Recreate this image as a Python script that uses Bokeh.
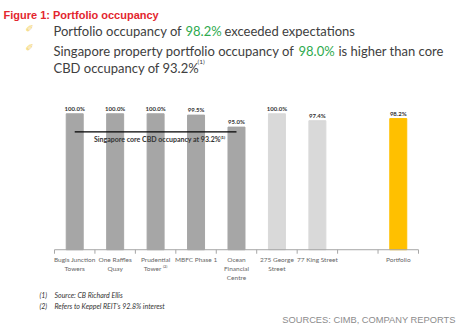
from bokeh.plotting import figure
from bokeh.models import Range1d, Label, ColumnDataSource
from bokeh.core.properties import value
from bokeh.embed import file_html
from bokeh.resources import INLINE

# ---- data ----
properties = ["Bugis Junction\nTowers", "One Raffles\nQuay", "Prudential\nTower \u207d\u00b2\u207e",
              "MBFC Phase 1", "Ocean\nFinancial\nCentre", "275 George\nStreet", "77 King Street",
              "Portfolio"]
occupancy = [100.0, 100.0, 100.0, 99.5, 95.0, 100.0, 97.4, 98.2]
occ_labels = ["100.0%", "100.0%", "100.0%", "99.5%", "95.0%", "100.0%", "97.4%", "98.2%"]
groups = ["sg", "sg", "sg", "sg", "sg", "au", "au", "all"]
core_cbd = 93.2
core_cbd_label = "Singapore core CBD occupancy at 93.2%\u207d\u00b9\u207e"

title = "Figure 1: Portfolio occupancy"
footnotes = [("(1)", "Source: CB Richard Ellis"), ("(2)", "Refers to Keppel REIT\u2019s 92.8% interest")]
source_note = "SOURCES: CIMB, COMPANY REPORTS"

# ---- layout ----
W, H = 459, 326
group_color = {"sg": "#A6A6A6", "au": "#D9D9D9", "all": "#FFC000"}
# slot index of each property (an empty slot separates Portfolio)
slots = [i if i < 7 else i + 1 for i in range(len(properties))]
n_slots = 9
xs = [s + 0.5 for s in slots]
base = 49.0

p = figure(width=W, height=H, output_backend="svg", toolbar_location=None,
           x_range=Range1d(-1.335, 10.014), y_range=Range1d(20.2, 142.5),
           min_border=0)
p.axis.visible = False
p.outline_line_color = None
p.grid.visible = False
p.background_fill_color = "white"
p.border_fill_color = "white"

src = ColumnDataSource(dict(x=xs, top=occupancy, lab=occ_labels, name=properties,
                            color=[group_color[g] for g in groups]))
p.vbar(x="x", top="top", bottom=base, width=0.42, color="color", source=src)
p.text(x="x", y="top", text="lab", source=src, text_align="center", text_baseline="bottom",
       y_offset=-2, text_font=value("Lato"), text_font_style="bold", text_font_size="6px",
       text_color="#333333")

# axis line + separator ticks
seps = [float(i) for i in range(n_slots + 1)]
p.segment(x0=[0.0], x1=[float(n_slots)], y0=[base], y1=[base], line_color="#A6A6A6",
          line_width=1)
p.segment(x0=seps, x1=seps, y0=[base] * len(seps), y1=[base - 1.5] * len(seps),
          line_color="#A6A6A6", line_width=1)

# category labels
p.text(x="x", y=base, text="name", source=src, text_align="center", text_baseline="top",
       y_offset=6, text_font=value("Lato"), text_font_size="6.5px", text_color="#666666",
       text_line_height=1.3)

# core CBD line
p.segment(x0=[0.5], x1=[4.5], y0=[core_cbd], y1=[core_cbd], line_color="black",
          line_width=1.2)
p.text(x=[2.6], y=[core_cbd], text=[core_cbd_label],
       text_align="center", text_baseline="top", y_offset=3,
       text_font=value("Lato"), text_font_style="bold", text_font_size="7px",
       text_color="#333333")


def lab(text, x, y, size, color="#404040", font="Lato", style="normal", align="left",
        baseline="alphabetic"):
    p.add_layout(Label(x=x, y=H - y, x_units="screen", y_units="screen", text=text,
                       text_font=font, text_font_size=size, text_color=color,
                       text_font_style=style, text_align=align, text_baseline=baseline))


lab(title, 3, 14, "11px", color="#E3262E", font="Liberation Sans", style="bold")
# bullets
for by in (28, 47):
    lab("\u2710", 25, by, "10px", color="#F2CF5B", font="DejaVu Sans")
green = "#2EAA4E"
fs = "13px"
lab("Portfolio occupancy of", 53, 30, fs)
lab("98.2%", 185, 30, fs, color=green)
lab("exceeded expectations", 224, 30, fs)
lab("Singapore property portfolio occupancy of", 53, 50, fs)
lab("98.0%", 298, 50, fs, color=green)
lab("is higher than core", 338, 50, fs)
lab("CBD occupancy of 93.2%", 53, 67, fs)
lab("(1)", 197, 61, "6.5px")

for i, (num, txt) in enumerate(footnotes):
    lab(num, 39, 294 + 11 * i, "7px", color="#333333", style="italic")
    lab(txt, 54, 294 + 11 * i, "7px", color="#333333", style="italic")

lab(source_note, 455, 319, "9.3px", color="#8C8C8C", font="Liberation Sans", align="right")

open("out.html", "w").write(file_html(p, INLINE))
